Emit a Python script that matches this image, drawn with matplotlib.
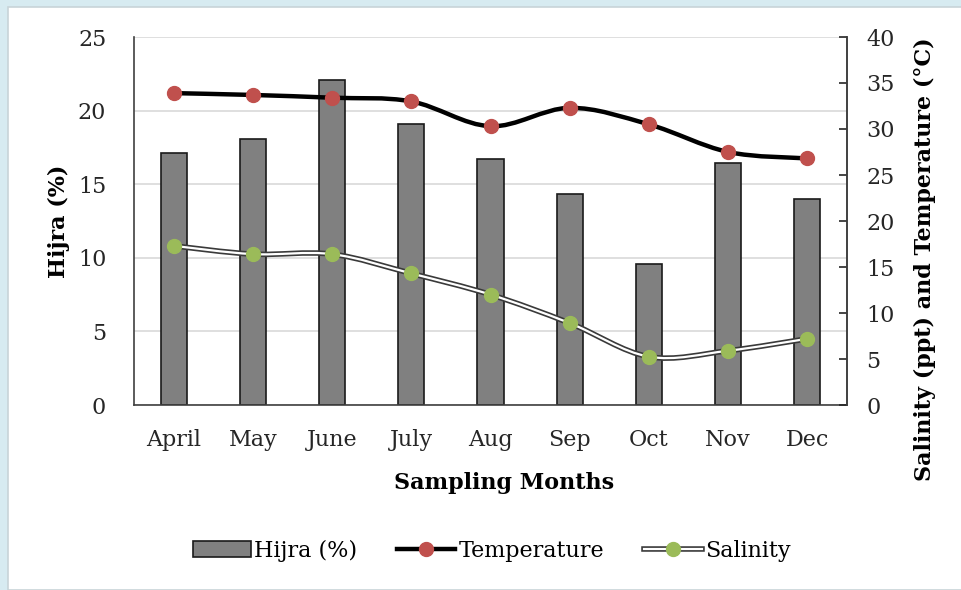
import matplotlib
matplotlib.use("Agg")
import matplotlib.pyplot as plt
import numpy as np
from matplotlib.path import Path
from matplotlib.patches import PathPatch, Rectangle
from matplotlib.lines import Line2D

months = ["April", "May", "June", "July", "Aug", "Sep", "Oct", "Nov", "Dec"]
hijra = [17.1, 18.1, 22.1, 19.1, 16.7, 14.35, 9.6, 16.45, 14.0]
temperature = [33.9, 33.7, 33.4, 33.0, 30.3, 32.3, 30.5, 27.5, 26.8]
salinity = [17.3, 16.4, 16.4, 14.3, 12.0, 8.9, 5.25, 5.9, 7.2]

plt.rcParams['font.family'] = ['DejaVu Serif']
FS = 16

def smooth_path(x, y):
    pts = np.column_stack([x, y]).astype(float)
    n = len(pts)
    verts = [pts[0]]
    codes = [Path.MOVETO]
    for i in range(n - 1):
        p0 = pts[i - 1] if i > 0 else pts[i]
        p1 = pts[i]
        p2 = pts[i + 1]
        p3 = pts[i + 2] if i + 2 < n else pts[i + 1]
        c1 = p1 + (p2 - p0) / 6.0
        c2 = p2 - (p3 - p1) / 6.0
        verts += [c1, c2, p2]
        codes += [Path.CURVE4] * 3
    return Path(verts, codes)

fig = plt.figure(figsize=(9.61, 5.90), dpi=100)
fig.patch.set_facecolor('#D7EBF1')
fig.patches.append(Rectangle((8 / 961, 0), 1, 1 - 7 / 590, transform=fig.transFigure,
                             facecolor='white', edgecolor='#C8D4D8', linewidth=1.2, zorder=-10))

ax = fig.add_axes([134 / 961, 185 / 590, 713 / 961, 368 / 590])
ax.set_facecolor('white')
x = np.arange(len(months))
ax.bar(x, hijra, width=0.33, color='#808080', edgecolor='#1a1a1a', linewidth=1.2, zorder=2)
ax.set_xlim(-0.5, len(months) - 0.5)
ax.set_ylim(0, 25)
ax.set_yticks(np.arange(0, 26, 5))
ax.grid(axis='y', color='#D9D9D9', linewidth=1.2, zorder=0)
ax.set_axisbelow(True)
ax.set_xticks(x)
ax.set_xticklabels(months)
ax.tick_params(axis='both', labelsize=FS, colors='#262626', length=0)
ax.tick_params(axis='x', pad=17)
ax.tick_params(axis='y', pad=20)
ax.spines['top'].set_visible(False)
for s in ['left', 'bottom', 'right']:
    ax.spines[s].set_color('#404040')
    ax.spines[s].set_linewidth(1.2)
ax.set_ylabel('Hijra (%)', fontsize=FS, fontweight='bold', labelpad=6)

ax2 = ax.twinx()
ax2.set_ylim(0, 40)
ax2.set_yticks(np.arange(0, 41, 5))
ax2.tick_params(axis='y', labelsize=FS, colors='#262626', direction='in', length=6, width=1.2, pad=14)
ax2.spines['top'].set_visible(False)
ax2.spines['right'].set_color('#404040')
ax2.spines['right'].set_linewidth(1.2)
ax2.spines['left'].set_visible(False)
ax2.spines['bottom'].set_visible(False)

tp = smooth_path(x, temperature)
ax2.add_patch(PathPatch(tp, fill=False, edgecolor='black', linewidth=3.2, zorder=3, capstyle='round'))
ax2.plot(x, temperature, linestyle='none', marker='o', markersize=10,
         markerfacecolor='#C0504D', markeredgecolor='#C0504D', zorder=5)

sp = smooth_path(x, salinity)
ax2.add_patch(PathPatch(sp, fill=False, edgecolor='#3a3a3a', linewidth=4.0, zorder=3))
ax2.add_patch(PathPatch(sp, fill=False, edgecolor='white', linewidth=1.6, zorder=4))
ax2.plot(x, salinity, linestyle='none', marker='o', markersize=10,
         markerfacecolor='#9BBB59', markeredgecolor='#9BBB59', zorder=5)

fig.text(504 / 961, 1 - 483 / 590, 'Sampling Months', ha='center', va='center',
         fontsize=FS, fontweight='bold')
fig.text(925 / 961, 1 - 259 / 590, 'Salinity (ppt) and Temperature (°C)', ha='center', va='center',
         rotation=90, fontsize=FS, fontweight='bold')

h_bar = Rectangle((0, 0), 1, 1, facecolor='#808080', edgecolor='#1a1a1a', linewidth=1.2)
h_temp = Line2D([], [], color='black', linewidth=3.2, marker='o', markersize=10,
                markerfacecolor='#C0504D', markeredgecolor='#C0504D')
h_sal_bg = Line2D([], [], color='#3a3a3a', linewidth=4.0)
h_sal_fg = Line2D([], [], color='white', linewidth=1.6, marker='o', markersize=10,
                  markerfacecolor='#9BBB59', markeredgecolor='#9BBB59')
leg = fig.legend([h_bar, h_temp, (h_sal_bg, h_sal_fg)], ['Hijra (%)', 'Temperature', 'Salinity'],
                 loc='center', bbox_to_anchor=(492 / 961, 1 - 551 / 590), ncol=3, frameon=False,
                 fontsize=FS, handlelength=2.6, handletextpad=0.15, columnspacing=1.8)

fig.savefig('out.png', dpi=100)
